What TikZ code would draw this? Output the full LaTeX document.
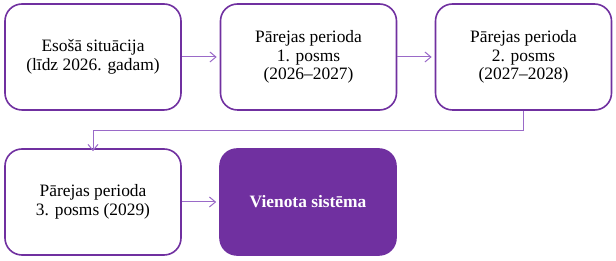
\documentclass[tikz,border=0pt]{standalone}
\usepackage{fontspec}
\setmainfont{Liberation Serif}
\usetikzlibrary{arrows.meta}
\definecolor{vborder}{HTML}{7030A0}
\definecolor{varrow}{HTML}{9A6AC8}
\begin{document}
\begin{tikzpicture}[x=1pt,y=-1pt,
  box/.style={draw=vborder, line width=1.6pt, rounded corners=17pt, minimum width=176pt, minimum height=106pt, align=center, inner sep=0pt,
    font=\fontsize{17.4pt}{18.5pt}\selectfont, text=black},
  filledbox/.style={box, fill=vborder, text=white, font=\fontsize{17.4pt}{18.5pt}\selectfont\bfseries},
  conn/.style={draw=varrow, line width=1pt, -{Straight Barb[length=6pt,width=10pt,line width=1pt]}}]
\useasboundingbox (0,0) rectangle (616,261);
\node[box] (b1) at (93,57) {Esošā situācija\\(līdz 2026. gadam)};
\node[box] (b2) at (308.5,57) {Pārejas perioda\\1. posms\\(2026–2027)};
\node[box] (b3) at (523.5,57) {Pārejas perioda\\2. posms\\(2027–2028)};
\node[box] (b4) at (93,202) {Pārejas perioda\\3. posms (2029)};
\node[filledbox] (b5) at (308,202) {Vienota sistēma};
\draw[conn] (b1.east) -- ([xshift=-3pt]b2.west);
\draw[conn] (b2.east) -- ([xshift=-3pt]b3.west);
\draw[conn] (b3.south) -- ++(0,19.5) -| ([yshift=-3pt]b4.north);
\draw[conn] (b4.east) -- ([xshift=-3pt]b5.west);
\end{tikzpicture}
\end{document}
